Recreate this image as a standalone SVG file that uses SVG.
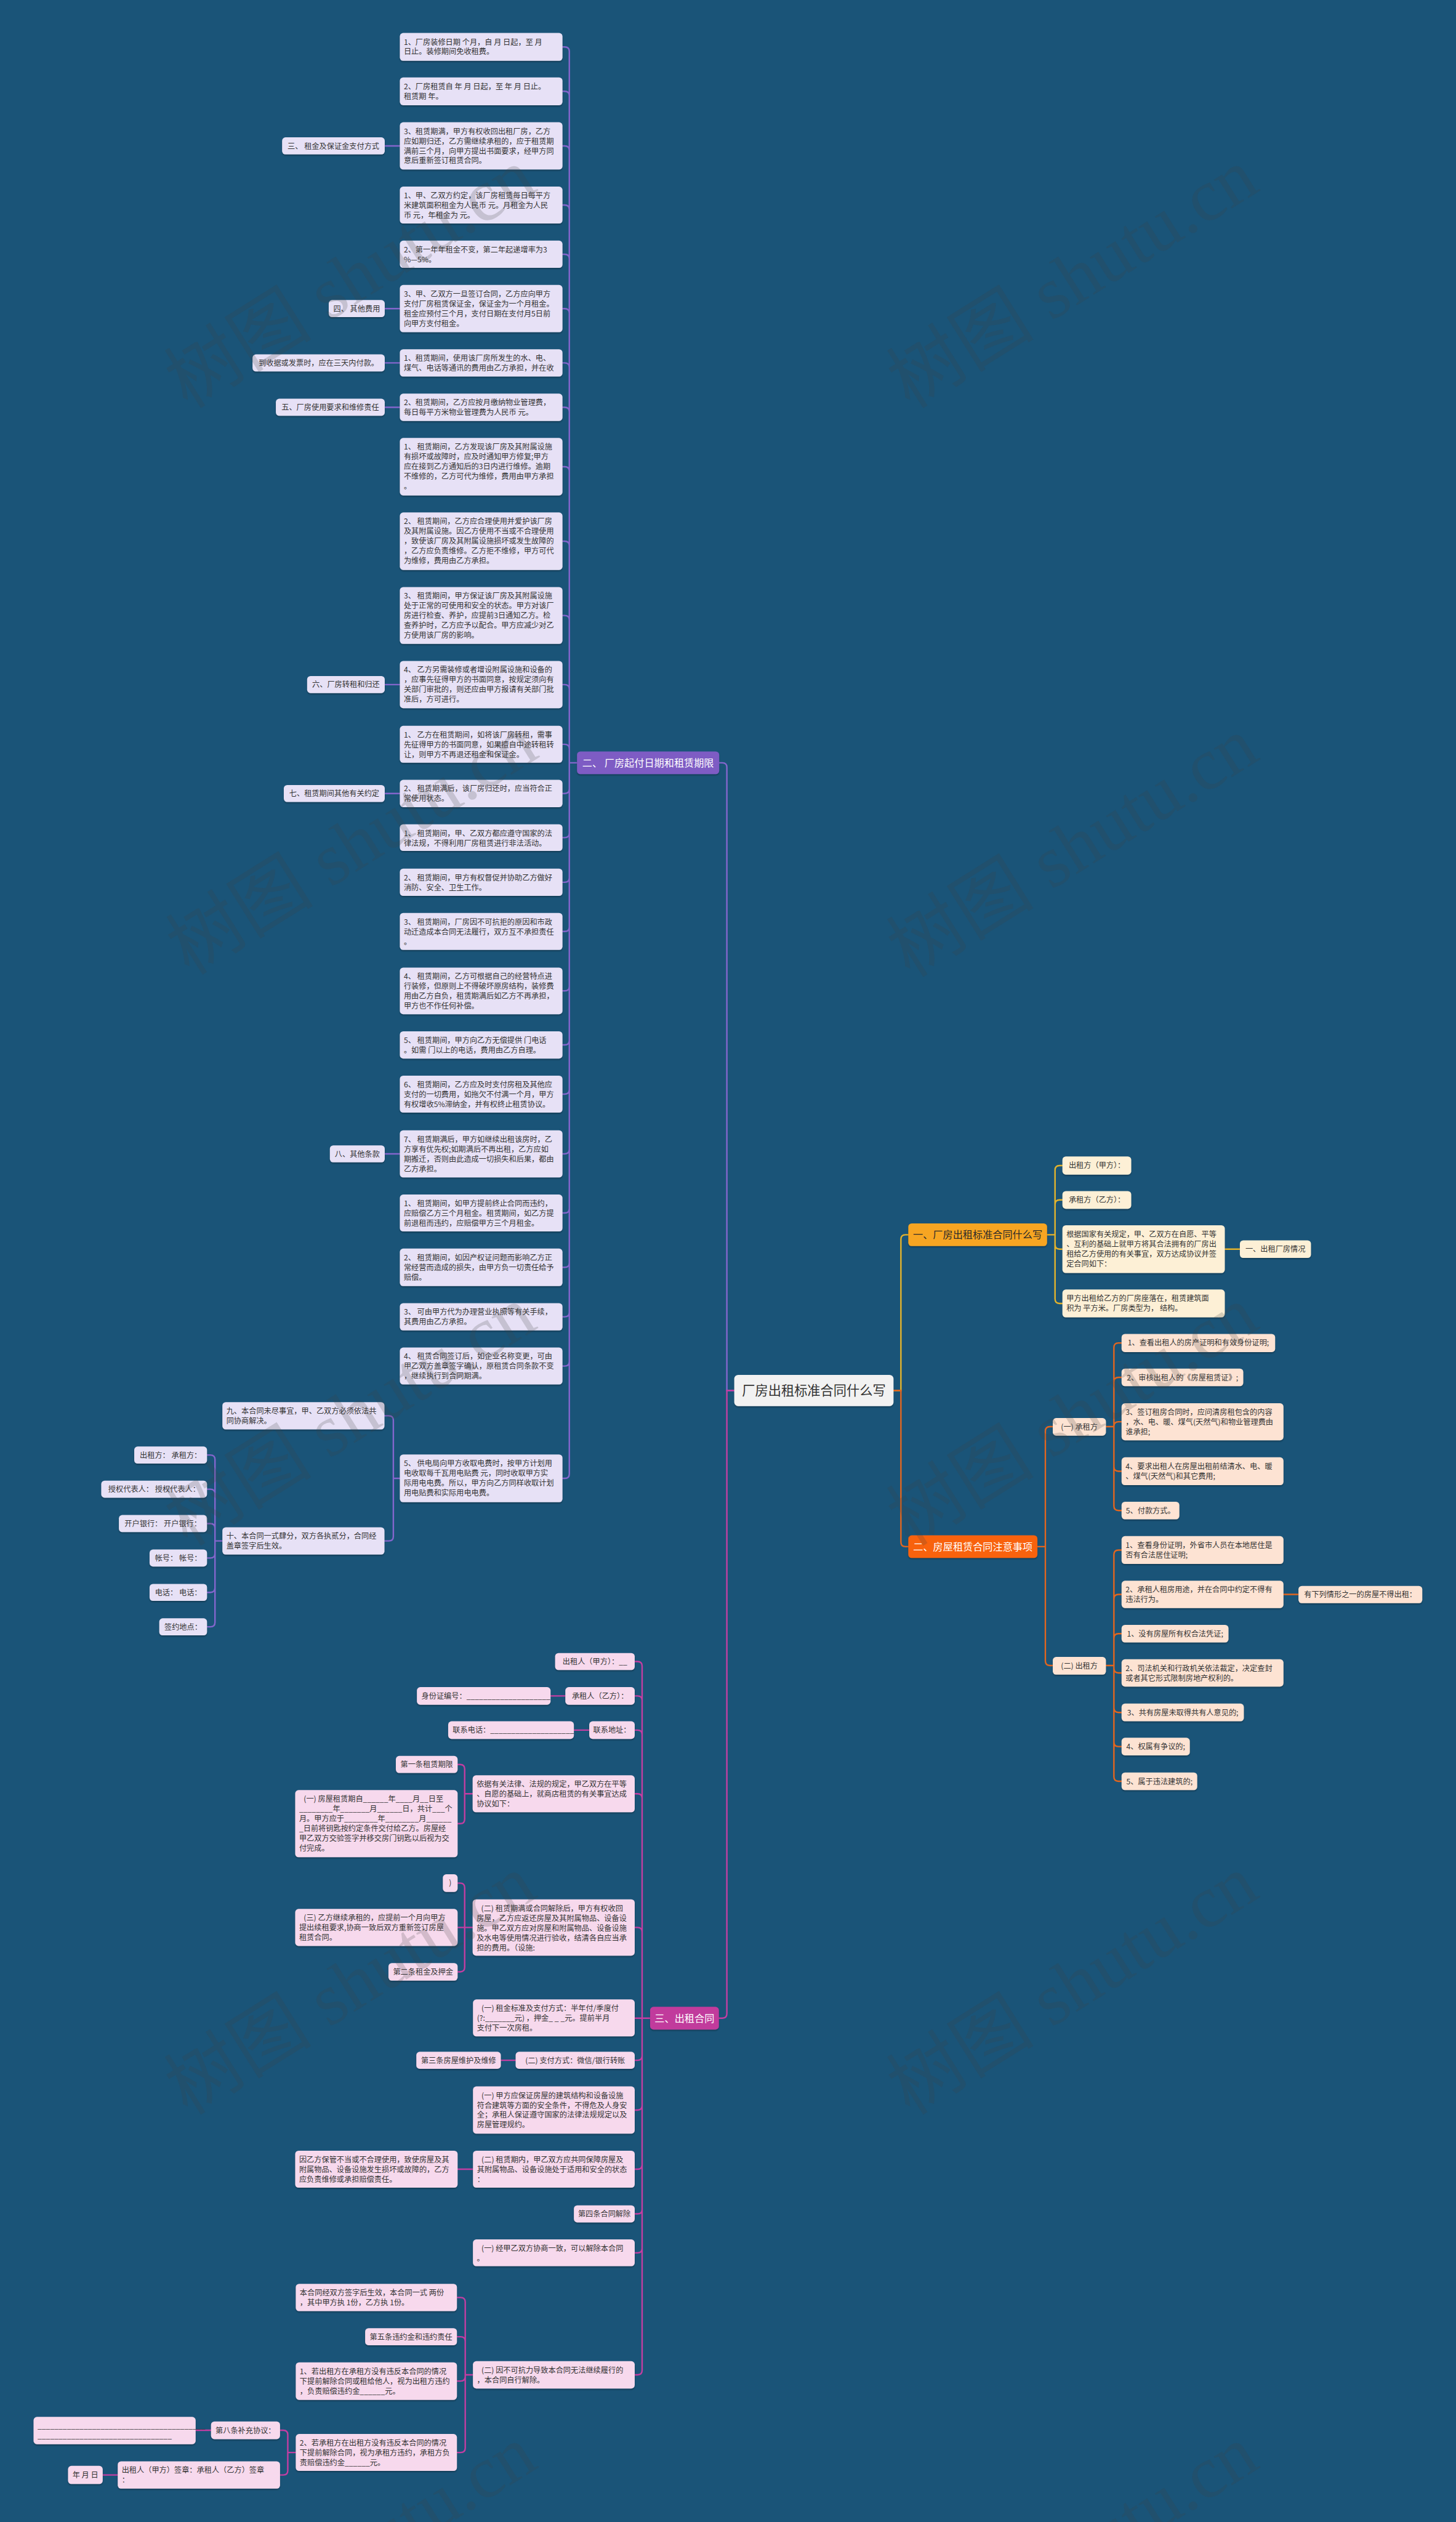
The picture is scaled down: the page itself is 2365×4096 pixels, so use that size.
<svg xmlns="http://www.w3.org/2000/svg" width="2365" height="4096" viewBox="0 0 2365 4096">
<defs>
<style>
text{font-family:"Noto Sans CJK SC","Noto Sans",sans-serif}
.t{font-size:13.2px;fill:#333}
.c{text-anchor:middle}
.mt{font-size:17.5px;text-anchor:middle}
.p{fill:#e7e1f6}
.m{fill:#f7d9ed}
.y{fill:#fdf0d6}
.o{fill:#fde3d3}
.p,.m,.y,.o,.main{filter:url(#sh)}
.cp,.cm,.cy,.co{fill:none;stroke-width:2.6;stroke-linecap:round}
.cp{stroke:#8466cc}
.cm{stroke:#c33ea2}
.cy{stroke:#e3b32c}
.co{stroke:#e2661f}
.wm{font-family:"Liberation Serif","Noto Sans CJK SC",serif;font-size:130px;fill:#404040;fill-opacity:.2}
</style>
<filter id="sh" x="-5%" y="-10%" width="110%" height="130%"><feDropShadow dx="0" dy="2" stdDeviation="1.2" flood-color="#000" flood-opacity=".3"/></filter>
</defs>
<rect width="2365" height="4096" fill="#1a5478"/>
<g transform="scale(0.92383)">
<g id="connectors">
<path class="cp" d="M1291,2444.5H1278V1349Q1278,1341 1270,1341H1264.5M1014.5,1341H1001M1001,90.5V2591M1001,90.5Q1001,82.5 993,82.5H989M1001,168.5Q1001,160.5 993,160.5H989M1001,264.5Q1001,256.5 993,256.5H989M1001,368.5Q1001,360.5 993,360.5H989M1001,455Q1001,447 993,447H989M1001,550.5Q1001,542.5 993,542.5H989M1001,646Q1001,638 993,638H989M1001,724Q1001,716 993,716H989M1001,828.5Q1001,820.5 993,820.5H989M1001,959.5Q1001,951.5 993,951.5H989M1001,1090Q1001,1082 993,1082H989M1001,1211.5Q1001,1203.5 993,1203.5H989M1001,1316.5Q1001,1308.5 993,1308.5H989M1001,1387Q1001,1395 993,1395H989M1001,1464.5Q1001,1472.5 993,1472.5H989M1001,1543Q1001,1551 993,1551H989M1001,1629.5Q1001,1637.5 993,1637.5H989M1001,1734Q1001,1742 993,1742H989M1001,1829Q1001,1837 993,1837H989M1001,1915.5Q1001,1923.5 993,1923.5H989M1001,2020.5Q1001,2028.5 993,2028.5H989M1001,2124.5Q1001,2132.5 993,2132.5H989M1001,2220Q1001,2228 993,2228H989M1001,2307Q1001,2315 993,2315H989M1001,2393.5Q1001,2401.5 993,2401.5H989M1001,2591Q1001,2599 993,2599H989"/>
<path class="cp" d="M676.5,256.5H703M676.5,542.5H703M676.5,638H703M676.5,716H703M676.5,1203.5H703M676.5,1395H703M676.5,2028.5H703"/>
<path class="cp" d="M703,2599H691.6M691.6,2497V2701M691.6,2497Q691.6,2489 683.6,2489H676M691.6,2701Q691.6,2709 683.6,2709H676"/>
<path class="cp" d="M391,2709H378M378,2566V2852M378,2566Q378,2558 370,2558H364M378,2626Q378,2618 370,2618H364M378,2686.5Q378,2678.5 370,2678.5H364M378,2731Q378,2739 370,2739H364M378,2791.5Q378,2799.5 370,2799.5H364M378,2852Q378,2860 370,2860H364"/>
<path class="cy" d="M1571,2444.5H1584V2178.7Q1584,2170.7 1592,2170.7H1597M1841,2170.7H1855M1855,2057V2283.5M1855,2057Q1855,2049 1863,2049H1868M1855,2117.5Q1855,2109.5 1863,2109.5H1868M1855,2188Q1855,2196 1863,2196H1868M1855,2283.5Q1855,2291.5 1863,2291.5H1868M2153.5,2196H2180"/>
<path class="co" d="M1571,2444.5H1584V2711Q1584,2719 1592,2719H1597M1824,2719H1838M1838,2516V2920M1838,2516Q1838,2508 1846,2508H1851M1838,2920Q1838,2928 1846,2928H1851"/>
<path class="co" d="M1944.5,2508H1958.5M1958.5,2369V2647.5M1958.5,2369Q1958.5,2361 1966.5,2361H1972M1958.5,2429.5Q1958.5,2421.5 1966.5,2421.5H1972M1958.5,2507.5Q1958.5,2499.5 1966.5,2499.5H1972M1958.5,2578.5Q1958.5,2586.5 1966.5,2586.5H1972M1958.5,2647.5Q1958.5,2655.5 1966.5,2655.5H1972"/>
<path class="co" d="M1944.5,2928H1958.5M1958.5,2733V3123.5M1958.5,2733Q1958.5,2725 1966.5,2725H1972M1958.5,2811Q1958.5,2803 1966.5,2803H1972M1958.5,2880Q1958.5,2872 1966.5,2872H1972M1958.5,2933Q1958.5,2941 1966.5,2941H1972M1958.5,3002.5Q1958.5,3010.5 1966.5,3010.5H1972M1958.5,3062.5Q1958.5,3070.5 1966.5,3070.5H1972M1958.5,3123.5Q1958.5,3131.5 1966.5,3131.5H1972M2256.7,2803H2283"/>
<path class="cm" d="M1291,2444.5H1278V3540Q1278,3548 1270,3548H1264M1143,3548H1116M1129,2929V4167M1129,2929Q1129,2921 1121,2921H1116M1129,2989.5Q1129,2981.5 1121,2981.5H1116M1129,3049.5Q1129,3041.5 1121,3041.5H1116M1129,3161.5Q1129,3153.5 1121,3153.5H1116M1129,3396.5Q1129,3388.5 1121,3388.5H1116M1129,3614Q1129,3622 1121,3622H1116M1129,3701.5Q1129,3709.5 1121,3709.5H1116M1129,3805.5Q1129,3813.5 1121,3813.5H1116M1129,3884Q1129,3892 1121,3892H1116M1129,3952.5Q1129,3960.5 1121,3960.5H1116M1129,4167Q1129,4175 1121,4175H1116"/>
<path class="cm" d="M994,2981.5H968M1036,3041.5H1009M906.6,3622H880.6M831.6,3813.5H804.6"/>
<path class="cm" d="M831,3153.5H817M817,3110V3198M817,3110Q817,3102 809,3102H804.6M817,3198Q817,3206 809,3206H804.6"/>
<path class="cm" d="M831,3388.5H804.6M817,3318.5V3458.5M817,3318.5Q817,3310.5 809,3310.5H804.6M817,3458.5Q817,3466.5 809,3466.5H804.6"/>
<path class="cm" d="M831.5,4175H818M818,4047V4303.5M818,4047Q818,4039 810,4039H803.4M818,4116Q818,4108 810,4108H803.4M818,4178Q818,4186 810,4186H803.4M818,4303.5Q818,4311.5 810,4311.5H803.4"/>
<path class="cm" d="M520,4311.5H506M506,4280.5V4343M506,4280.5Q506,4272.5 498,4272.5H492.4M506,4343Q506,4351 498,4351H492.4M371,4272.5H344M207,4351H180.6"/>
</g>

<g id="root"><rect class="main" x="1291" y="2417" width="280" height="55" rx="7" fill="#f2f2f2"/><text x="1431" y="2453" font-size="23" text-anchor="middle" fill="#333">厂房出租标准合同什么写</text></g>
<g id="b2"><rect class="main" x="1014.5" y="1321" width="250" height="40" rx="6" fill="#7e5cc4"/><text class="mt" x="1139.5" y="1347.5" fill="#fff">二、 厂房起付日期和租赁期限</text></g>
<g id="b1"><rect class="main" x="1597" y="2150.7" width="244" height="40" rx="6" fill="#f7a520"/><text class="mt" x="1719" y="2177" fill="#2b2b2b">一、厂房出租标准合同什么写</text></g>
<g id="b2o"><rect class="main" x="1597" y="2699" width="227" height="40" rx="6" fill="#f8620e"/><text class="mt" x="1710.5" y="2725.5" fill="#fff">二、房屋租赁合同注意事项</text></g>
<g id="b3"><rect class="main" x="1143" y="3528" width="121" height="40" rx="6" fill="#c13a9c"/><text class="mt" x="1203.5" y="3554.5" fill="#fff">三、出租合同</text></g>

<g id="n1"><rect class="p" x="703" y="58" width="286" height="49" rx="6"/><text class="t" x="710" y="78.5"><tspan x="710">1、厂房装修日期 个月，自 月 日起，至 月</tspan><tspan x="710" dy="17.3">日止。装修期间免收租费。</tspan></text></g>
<g id="n2"><rect class="p" x="703" y="136" width="286" height="49" rx="6"/><text class="t" x="710" y="156.5"><tspan x="710">2、厂房租赁自 年 月 日起，至 年 月 日止。</tspan><tspan x="710" dy="17.3">租赁期 年。</tspan></text></g>
<g id="n3"><rect class="p" x="703" y="215" width="286" height="83" rx="6"/><text class="t" x="710" y="235.5"><tspan x="710">3、租赁期满，甲方有权收回出租厂房，乙方</tspan><tspan x="710" dy="17.3">应如期归还，乙方需继续承租的，应于租赁期</tspan><tspan x="710" dy="17.3">满前三个月，向甲方提出书面要求，经甲方同</tspan><tspan x="710" dy="17.3">意后重新签订租赁合同。</tspan></text></g>
<g id="n4"><rect class="p" x="703" y="328" width="286" height="65" rx="6"/><text class="t" x="710" y="348.5"><tspan x="710">1、甲、乙双方约定，该厂房租赁每日每平方</tspan><tspan x="710" dy="17.3">米建筑面积租金为人民币 元。月租金为人民</tspan><tspan x="710" dy="17.3">币 元，年租金为 元。</tspan></text></g>
<g id="n5"><rect class="p" x="703" y="423" width="286" height="48" rx="6"/><text class="t" x="710" y="443.5"><tspan x="710">2、第一年年租金不变，第二年起递增率为3</tspan><tspan x="710" dy="17.3">%—5%。</tspan></text></g>
<g id="n6"><rect class="p" x="703" y="501" width="286" height="83" rx="6"/><text class="t" x="710" y="521.5"><tspan x="710">3、甲、乙双方一旦签订合同，乙方应向甲方</tspan><tspan x="710" dy="17.3">支付厂房租赁保证金，保证金为一个月租金。</tspan><tspan x="710" dy="17.3">租金应预付三个月，支付日期在支付月5日前</tspan><tspan x="710" dy="17.3">向甲方支付租金。</tspan></text></g>
<g id="n7"><rect class="p" x="703" y="614" width="286" height="48" rx="6"/><text class="t" x="710" y="634.5"><tspan x="710">1、租赁期间，使用该厂房所发生的水、电、</tspan><tspan x="710" dy="17.3">煤气、电话等通讯的费用由乙方承担，并在收</tspan></text></g>
<g id="n8"><rect class="p" x="703" y="692" width="286" height="48" rx="6"/><text class="t" x="710" y="712.5"><tspan x="710">2、租赁期间，乙方应按月缴纳物业管理费，</tspan><tspan x="710" dy="17.3">每日每平方米物业管理费为人民币 元。</tspan></text></g>
<g id="n9"><rect class="p" x="703" y="770" width="286" height="101" rx="6"/><text class="t" x="710" y="790.5"><tspan x="710">1、 租赁期间，乙方发现该厂房及其附属设施</tspan><tspan x="710" dy="17.3">有损坏或故障时，应及时通知甲方修复;甲方</tspan><tspan x="710" dy="17.3">应在接到乙方通知后的3日内进行维修。逾期</tspan><tspan x="710" dy="17.3">不维修的，乙方可代为维修，费用由甲方承担</tspan><tspan x="710" dy="17.3">。</tspan></text></g>
<g id="n10"><rect class="p" x="703" y="901" width="286" height="101" rx="6"/><text class="t" x="710" y="921.5"><tspan x="710">2、 租赁期间，乙方应合理使用并爱护该厂房</tspan><tspan x="710" dy="17.3">及其附属设施。因乙方使用不当或不合理使用</tspan><tspan x="710" dy="17.3">，致使该厂房及其附属设施损坏或发生故障的</tspan><tspan x="710" dy="17.3">，乙方应负责维修。乙方拒不维修，甲方可代</tspan><tspan x="710" dy="17.3">为维修，费用由乙方承担。</tspan></text></g>
<g id="n11"><rect class="p" x="703" y="1032" width="286" height="100" rx="6"/><text class="t" x="710" y="1052.5"><tspan x="710">3、 租赁期间，甲方保证该厂房及其附属设施</tspan><tspan x="710" dy="17.3">处于正常的可使用和安全的状态。甲方对该厂</tspan><tspan x="710" dy="17.3">房进行检查、养护，应提前3日通知乙方。检</tspan><tspan x="710" dy="17.3">查养护时，乙方应予以配合。甲方应减少对乙</tspan><tspan x="710" dy="17.3">方使用该厂房的影响。</tspan></text></g>
<g id="n12"><rect class="p" x="703" y="1162" width="286" height="83" rx="6"/><text class="t" x="710" y="1182.5"><tspan x="710">4、 乙方另需装修或者增设附属设施和设备的</tspan><tspan x="710" dy="17.3">，应事先征得甲方的书面同意，按规定须向有</tspan><tspan x="710" dy="17.3">关部门审批的，则还应由甲方报请有关部门批</tspan><tspan x="710" dy="17.3">准后，方可进行。</tspan></text></g>
<g id="n13"><rect class="p" x="703" y="1276" width="286" height="65" rx="6"/><text class="t" x="710" y="1296.5"><tspan x="710">1、 乙方在租赁期间，如将该厂房转租，需事</tspan><tspan x="710" dy="17.3">先征得甲方的书面同意，如果擅自中途转租转</tspan><tspan x="710" dy="17.3">让，则甲方不再退还租金和保证金。</tspan></text></g>
<g id="n14"><rect class="p" x="703" y="1371" width="286" height="48" rx="6"/><text class="t" x="710" y="1391.5"><tspan x="710">2、 租赁期满后，该厂房归还时，应当符合正</tspan><tspan x="710" dy="17.3">常使用状态。</tspan></text></g>
<g id="n15"><rect class="p" x="703" y="1449" width="286" height="47" rx="6"/><text class="t" x="710" y="1469.5"><tspan x="710">1、 租赁期间，甲、乙双方都应遵守国家的法</tspan><tspan x="710" dy="17.3">律法规，不得利用厂房租赁进行非法活动。</tspan></text></g>
<g id="n16"><rect class="p" x="703" y="1527" width="286" height="48" rx="6"/><text class="t" x="710" y="1547.5"><tspan x="710">2、 租赁期间，甲方有权督促并协助乙方做好</tspan><tspan x="710" dy="17.3">消防、安全、卫生工作。</tspan></text></g>
<g id="n17"><rect class="p" x="703" y="1605" width="286" height="65" rx="6"/><text class="t" x="710" y="1625.5"><tspan x="710">3、 租赁期间，厂房因不可抗拒的原因和市政</tspan><tspan x="710" dy="17.3">动迁造成本合同无法履行，双方互不承担责任</tspan><tspan x="710" dy="17.3">。</tspan></text></g>
<g id="n18"><rect class="p" x="703" y="1701" width="286" height="82" rx="6"/><text class="t" x="710" y="1721.5"><tspan x="710">4、 租赁期间，乙方可根据自己的经营特点进</tspan><tspan x="710" dy="17.3">行装修，但原则上不得破坏原房结构，装修费</tspan><tspan x="710" dy="17.3">用由乙方自负，租赁期满后如乙方不再承担，</tspan><tspan x="710" dy="17.3">甲方也不作任何补偿。</tspan></text></g>
<g id="n19"><rect class="p" x="703" y="1813" width="286" height="48" rx="6"/><text class="t" x="710" y="1833.5"><tspan x="710">5、 租赁期间，甲方向乙方无偿提供 门电话</tspan><tspan x="710" dy="17.3">。如需 门以上的电话，费用由乙方自理。</tspan></text></g>
<g id="n20"><rect class="p" x="703" y="1891" width="286" height="65" rx="6"/><text class="t" x="710" y="1911.5"><tspan x="710">6、 租赁期间，乙方应及时支付房租及其他应</tspan><tspan x="710" dy="17.3">支付的一切费用，如拖欠不付满一个月，甲方</tspan><tspan x="710" dy="17.3">有权增收5%滞纳金，并有权终止租赁协议。</tspan></text></g>
<g id="n21"><rect class="p" x="703" y="1987" width="286" height="83" rx="6"/><text class="t" x="710" y="2007.5"><tspan x="710">7、 租赁期满后，甲方如继续出租该房时，乙</tspan><tspan x="710" dy="17.3">方享有优先权;如期满后不再出租，乙方应如</tspan><tspan x="710" dy="17.3">期搬迁，否则由此造成一切损失和后果，都由</tspan><tspan x="710" dy="17.3">乙方承担。</tspan></text></g>
<g id="n22"><rect class="p" x="703" y="2100" width="286" height="65" rx="6"/><text class="t" x="710" y="2120.5"><tspan x="710">1、 租赁期间，如甲方提前终止合同而违约，</tspan><tspan x="710" dy="17.3">应赔偿乙方三个月租金。租赁期间，如乙方提</tspan><tspan x="710" dy="17.3">前退租而违约，应赔偿甲方三个月租金。</tspan></text></g>
<g id="n23"><rect class="p" x="703" y="2195" width="286" height="66" rx="6"/><text class="t" x="710" y="2215.5"><tspan x="710">2、 租赁期间，如因产权证问题而影响乙方正</tspan><tspan x="710" dy="17.3">常经营而造成的损失，由甲方负一切责任给予</tspan><tspan x="710" dy="17.3">赔偿。</tspan></text></g>
<g id="n24"><rect class="p" x="703" y="2291" width="286" height="48" rx="6"/><text class="t" x="710" y="2311.5"><tspan x="710">3、 可由甲方代为办理营业执照等有关手续，</tspan><tspan x="710" dy="17.3">其费用由乙方承担。</tspan></text></g>
<g id="n25"><rect class="p" x="703" y="2369" width="286" height="65" rx="6"/><text class="t" x="710" y="2389.5"><tspan x="710">4、 租赁合同签订后，如企业名称变更，可由</tspan><tspan x="710" dy="17.3">甲乙双方盖章签字确认，原租赁合同条款不变</tspan><tspan x="710" dy="17.3">，继续执行到合同期满。</tspan></text></g>
<g id="n26"><rect class="p" x="703" y="2557" width="286" height="84" rx="6"/><text class="t" x="710" y="2577.5"><tspan x="710">5、 供电局向甲方收取电费时，按甲方计划用</tspan><tspan x="710" dy="17.3">电收取每千瓦用电贴费 元，同时收取甲方实</tspan><tspan x="710" dy="17.3">际用电电费。所以，甲方向乙方同样收取计划</tspan><tspan x="710" dy="17.3">用电贴费和实际用电电费。</tspan></text></g>

<g id="l3"><rect class="p" x="496" y="241.5" width="180.5" height="30" rx="6"/><text class="t c" x="586.2" y="261.5">三、 租金及保证金支付方式</text></g>
<g id="l4"><rect class="p" x="578" y="527.5" width="98.5" height="30" rx="6"/><text class="t c" x="627.2" y="547.5">四、 其他费用</text></g>
<g id="l4b"><rect class="p" x="444" y="623" width="232.5" height="30" rx="6"/><text class="t c" x="560.2" y="643">到收据或发票时，应在三天内付款。</text></g>
<g id="l5"><rect class="p" x="485" y="701" width="191.5" height="30" rx="6"/><text class="t c" x="580.7" y="721">五、厂房使用要求和维修责任</text></g>
<g id="l6"><rect class="p" x="540" y="1188.5" width="136.5" height="30" rx="6"/><text class="t c" x="608.2" y="1208.5">六、厂房转租和归还</text></g>
<g id="l7"><rect class="p" x="499" y="1380" width="177.5" height="30" rx="6"/><text class="t c" x="587.7" y="1400">七、租赁期间其他有关约定</text></g>
<g id="l8"><rect class="p" x="580" y="2013.5" width="96.5" height="30" rx="6"/><text class="t c" x="628.2" y="2033.5">八、其他条款</text></g>
<g id="l9"><rect class="p" x="391" y="2465" width="285" height="48" rx="6"/><text class="t" x="398" y="2485.5"><tspan x="398">九、本合同未尽事宜，甲、乙双方必须依法共</tspan><tspan x="398" dy="17.3">同协商解决。</tspan></text></g>
<g id="l10"><rect class="p" x="391" y="2685" width="285" height="48" rx="6"/><text class="t" x="398" y="2705.5"><tspan x="398">十、本合同一式肆分，双方各执贰分，合同经</tspan><tspan x="398" dy="17.3">盖章签字后生效。</tspan></text></g>
<g id="s1"><rect class="p" x="236" y="2543" width="128" height="30" rx="6"/><text class="t c" x="300" y="2563">出租方： 承租方：</text></g>
<g id="s2"><rect class="p" x="178" y="2603" width="186" height="30" rx="6"/><text class="t c" x="271" y="2623">授权代表人： 授权代表人：</text></g>
<g id="s3"><rect class="p" x="209" y="2663.5" width="155" height="30" rx="6"/><text class="t c" x="286.5" y="2683.5">开户银行： 开户银行：</text></g>
<g id="s4"><rect class="p" x="263" y="2724" width="101" height="30" rx="6"/><text class="t c" x="313.5" y="2744">帐号： 帐号：</text></g>
<g id="s5"><rect class="p" x="263" y="2784.5" width="101" height="30" rx="6"/><text class="t c" x="313.5" y="2804.5">电话： 电话：</text></g>
<g id="s6"><rect class="p" x="280" y="2845" width="84" height="30" rx="6"/><text class="t c" x="322" y="2865">签约地点：</text></g>

<g id="y1"><rect class="y" x="1868" y="2033" width="121" height="32" rx="6"/><text class="t c" x="1928.5" y="2053.5">出租方（甲方）：</text></g>
<g id="y2"><rect class="y" x="1868" y="2094" width="121" height="31" rx="6"/><text class="t c" x="1928.5" y="2114.5">承租方（乙方）：</text></g>
<g id="y3"><rect class="y" x="1868" y="2154" width="285.5" height="84" rx="6"/><text class="t" x="1875" y="2174.5"><tspan x="1875">根据国家有关规定，甲、乙双方在自愿、平等</tspan><tspan x="1875" dy="17.3">、互利的基础上就甲方将其合法拥有的厂房出</tspan><tspan x="1875" dy="17.3">租给乙方使用的有关事宜，双方达成协议并签</tspan><tspan x="1875" dy="17.3">定合同如下：</tspan></text></g>
<g id="y3c"><rect class="y" x="2180" y="2180.5" width="125" height="31" rx="6"/><text class="t c" x="2242.5" y="2201">一、出租厂房情况</text></g>
<g id="y4"><rect class="y" x="1868" y="2267" width="285.5" height="49" rx="6"/><text class="t" x="1875" y="2287.5"><tspan x="1875">甲方出租给乙方的厂房座落在，租赁建筑面</tspan><tspan x="1875" dy="17.3">积为 平方米。厂房类型为， 结构。</tspan></text></g>

<g id="oa"><rect class="o" x="1851" y="2493" width="93.5" height="31" rx="6"/><text class="t c" x="1897.7" y="2513.5">(一) 承租方</text></g>
<g id="ob"><rect class="o" x="1851" y="2913" width="93.5" height="31" rx="6"/><text class="t c" x="1897.7" y="2933.5">(二) 出租方</text></g>
<g id="o1"><rect class="o" x="1972" y="2345" width="270" height="32" rx="6"/><text class="t c" x="2107" y="2365.5">1、查看出租人的房产证明和有效身份证明;</text></g>
<g id="o2"><rect class="o" x="1972" y="2406" width="214" height="31" rx="6"/><text class="t c" x="2079" y="2426.5">2、审核出租人的《房屋租赁证》;</text></g>
<g id="o3"><rect class="o" x="1972" y="2467" width="284.7" height="65" rx="6"/><text class="t" x="1979" y="2487.5"><tspan x="1979">3、签订租房合同时，应问清房租包含的内容</tspan><tspan x="1979" dy="17.3">，水、电、暖、煤气(天然气)和物业管理费由</tspan><tspan x="1979" dy="17.3">谁承担;</tspan></text></g>
<g id="o4"><rect class="o" x="1972" y="2562" width="284.7" height="49" rx="6"/><text class="t" x="1979" y="2582.5"><tspan x="1979">4、要求出租人在房屋出租前结清水、电、暖</tspan><tspan x="1979" dy="17.3">、煤气(天然气)和其它费用;</tspan></text></g>
<g id="o5"><rect class="o" x="1972" y="2640" width="101.6" height="31" rx="6"/><text class="t c" x="2022.8" y="2660.5">5、付款方式。</text></g>
<g id="p1"><rect class="o" x="1972" y="2700.5" width="284.7" height="49" rx="6"/><text class="t" x="1979" y="2721"><tspan x="1979">1、查看身份证明，外省市人员在本地居住是</tspan><tspan x="1979" dy="17.3">否有合法居住证明;</tspan></text></g>
<g id="p2"><rect class="o" x="1972" y="2779" width="284.7" height="48" rx="6"/><text class="t" x="1979" y="2799.5"><tspan x="1979">2、承租人租房用途，并在合同中约定不得有</tspan><tspan x="1979" dy="17.3">违法行为。</tspan></text></g>
<g id="p2c"><rect class="o" x="2283" y="2788" width="217.7" height="30.5" rx="6"/><text class="t c" x="2391.8" y="2808.3">有下列情形之一的房屋不得出租：</text></g>
<g id="p3"><rect class="o" x="1972" y="2856.5" width="188" height="31" rx="6"/><text class="t c" x="2066" y="2877">1、没有房屋所有权合法凭证;</text></g>
<g id="p4"><rect class="o" x="1972" y="2917" width="284.7" height="48" rx="6"/><text class="t" x="1979" y="2937.5"><tspan x="1979">2、司法机关和行政机关依法裁定，决定查封</tspan><tspan x="1979" dy="17.3">或者其它形式限制房地产权利的。</tspan></text></g>
<g id="p5"><rect class="o" x="1972" y="2995" width="215" height="31" rx="6"/><text class="t c" x="2079.5" y="3015.5">3、共有房屋未取得共有人意见的;</text></g>
<g id="p6"><rect class="o" x="1972" y="3055" width="120" height="31" rx="6"/><text class="t c" x="2032" y="3075.5">4、权属有争议的;</text></g>
<g id="p7"><rect class="o" x="1972" y="3116" width="133" height="31" rx="6"/><text class="t c" x="2038.5" y="3136.5">5、属于违法建筑的;</text></g>

<g id="m1"><rect class="m" x="976" y="2906" width="140" height="30" rx="6"/><text class="t c" x="1046" y="2926">出租人（甲方）：__</text></g>
<g id="m2"><rect class="m" x="994" y="2966" width="122" height="31" rx="6"/><text class="t c" x="1055" y="2986.5">承租人（乙方）：</text></g>
<g id="m2c"><rect class="m" x="733" y="2966" width="235" height="31" rx="6"/><text class="t" x="741" y="2986.5">身份证编号：____________________</text></g>
<g id="m3"><rect class="m" x="1036" y="3026" width="80" height="31" rx="6"/><text class="t c" x="1076" y="3046.5">联系地址：</text></g>
<g id="m3c"><rect class="m" x="788" y="3026" width="221" height="31" rx="6"/><text class="t" x="796" y="3046.5">联系电话：____________________</text></g>
<g id="m4"><rect class="m" x="831" y="3121" width="285" height="65" rx="6"/><text class="t" x="838" y="3141.5"><tspan x="838">依据有关法律、法规的规定，甲乙双方在平等</tspan><tspan x="838" dy="17.3">、自愿的基础上，就商店租赁的有关事宜达成</tspan><tspan x="838" dy="17.3">协议如下：</tspan></text></g>
<g id="m4a"><rect class="m" x="696" y="3087" width="108.6" height="30" rx="6"/><text class="t c" x="750.3" y="3107">第一条租赁期限</text></g>
<g id="m4b"><rect class="m" x="519" y="3147" width="285.6" height="118" rx="6"/><text class="t" x="526" y="3167.5"><tspan x="534">(一) 房屋租赁期自______年____月__日至</tspan><tspan x="526" dy="17.3">________年_______月______日，共计___个</tspan><tspan x="526" dy="17.3">月。甲方应于________年________月______</tspan><tspan x="526" dy="17.3">_日前将钥匙按约定条件交付给乙方。房屋经</tspan><tspan x="526" dy="17.3">甲乙双方交验签字并移交房门钥匙以后视为交</tspan><tspan x="526" dy="17.3">付完成。</tspan></text></g>
<g id="m5"><rect class="m" x="831" y="3339" width="285" height="99" rx="6"/><text class="t" x="838" y="3359.5"><tspan x="846">(二) 租赁期满或合同解除后，甲方有权收回</tspan><tspan x="838" dy="17.3">房屋，乙方应返还房屋及其附属物品、设备设</tspan><tspan x="838" dy="17.3">施。甲乙双方应对房屋和附属物品、设备设施</tspan><tspan x="838" dy="17.3">及水电等使用情况进行验收，结清各自应当承</tspan><tspan x="838" dy="17.3">担的费用。（设施:</tspan></text></g>
<g id="m5a"><rect class="m" x="778.6" y="3295" width="26" height="31" rx="6"/><text class="t c" x="791.6" y="3315">)</text></g>
<g id="m5b"><rect class="m" x="519" y="3356" width="285.6" height="65" rx="6"/><text class="t" x="526" y="3376.5"><tspan x="534">(三) 乙方继续承租的，应提前一个月向甲方</tspan><tspan x="526" dy="17.3">提出续租要求,协商一致后双方重新签订房屋</tspan><tspan x="526" dy="17.3">租赁合同。</tspan></text></g>
<g id="m5c"><rect class="m" x="683" y="3451" width="121.6" height="31" rx="6"/><text class="t c" x="743.8" y="3471.5">第二条租金及押金</text></g>
<g id="m6"><rect class="m" x="831.6" y="3515" width="284.4" height="65" rx="6"/><text class="t" x="838.6" y="3535.5"><tspan x="846.6">(一) 租金标准及支付方式：半年付/季度付</tspan><tspan x="838.6" dy="17.3">(?:_______元) ，押金_ _ _元。提前半月</tspan><tspan x="838.6" dy="17.3">支付下一次房租。</tspan></text></g>
<g id="m7"><rect class="m" x="906.6" y="3607" width="209.4" height="30" rx="6"/><text class="t c" x="1011.3" y="3627">(二) 支付方式：微信/银行转账</text></g>
<g id="m7c"><rect class="m" x="732" y="3607" width="148.6" height="30" rx="6"/><text class="t c" x="806.3" y="3627">第三条房屋维护及维修</text></g>
<g id="m8"><rect class="m" x="831.6" y="3668" width="284.4" height="83" rx="6"/><text class="t" x="838.6" y="3688.5"><tspan x="846.6">(一) 甲方应保证房屋的建筑结构和设备设施</tspan><tspan x="838.6" dy="17.3">符合建筑等方面的安全条件，不得危及人身安</tspan><tspan x="838.6" dy="17.3">全；承租人保证遵守国家的法律法规规定以及</tspan><tspan x="838.6" dy="17.3">房屋管理规约。</tspan></text></g>
<g id="m9"><rect class="m" x="831.6" y="3781" width="284.4" height="65" rx="6"/><text class="t" x="838.6" y="3801.5"><tspan x="846.6">(二) 租赁期内，甲乙双方应共同保障房屋及</tspan><tspan x="838.6" dy="17.3">其附属物品、设备设施处于适用和安全的状态</tspan><tspan x="838.6" dy="17.3">：</tspan></text></g>
<g id="m9c"><rect class="m" x="519" y="3781" width="285.6" height="65" rx="6"/><text class="t" x="526" y="3801.5"><tspan x="526">因乙方保管不当或不合理使用，致使房屋及其</tspan><tspan x="526" dy="17.3">附属物品、设备设施发生损坏或故障的，乙方</tspan><tspan x="526" dy="17.3">应负责维修或承担赔偿责任。</tspan></text></g>
<g id="m10"><rect class="m" x="1009" y="3877" width="107" height="30" rx="6"/><text class="t c" x="1062.5" y="3897">第四条合同解除</text></g>
<g id="m11"><rect class="m" x="831.5" y="3937" width="284.5" height="47" rx="6"/><text class="t" x="838.5" y="3957.5"><tspan x="846.5">(一) 经甲乙双方协商一致，可以解除本合同</tspan><tspan x="838.5" dy="17.3">。</tspan></text></g>
<g id="m12"><rect class="m" x="831.5" y="4151" width="284.5" height="48" rx="6"/><text class="t" x="838.5" y="4171.5"><tspan x="846.5">(二) 因不可抗力导致本合同无法继续履行的</tspan><tspan x="838.5" dy="17.3">，本合同自行解除。</tspan></text></g>
<g id="m12a"><rect class="m" x="520" y="4015" width="283.4" height="48" rx="6"/><text class="t" x="527" y="4035.5"><tspan x="527">本合同经双方签字后生效，本合同一式 两份</tspan><tspan x="527" dy="17.3">，其中甲方执 1份，乙方执 1份。</tspan></text></g>
<g id="m12b"><rect class="m" x="642" y="4093" width="161.4" height="30" rx="6"/><text class="t c" x="722.7" y="4113">第五条违约金和违约责任</text></g>
<g id="m12c"><rect class="m" x="520" y="4153" width="283.4" height="66" rx="6"/><text class="t" x="527" y="4173.5"><tspan x="527">1、若出租方在承租方没有违反本合同的情况</tspan><tspan x="527" dy="17.3">下提前解除合同或租给他人，视为出租方违约</tspan><tspan x="527" dy="17.3">，负责赔偿违约金______元。</tspan></text></g>
<g id="m12d"><rect class="m" x="520" y="4279" width="283.4" height="65" rx="6"/><text class="t" x="527" y="4299.5"><tspan x="527">2、若承租方在出租方没有违反本合同的情况</tspan><tspan x="527" dy="17.3">下提前解除合同，视为承租方违约，承租方负</tspan><tspan x="527" dy="17.3">责赔偿违约金______元。</tspan></text></g>
<g id="d1"><rect class="m" x="371" y="4257" width="121.4" height="31" rx="6"/><text class="t c" x="431.7" y="4277.5">第八条补充协议：</text></g>
<g id="d1c"><rect class="m" x="59" y="4249" width="285" height="48" rx="6"/><text class="t" x="66" y="4269.5"><tspan x="66">________________________________________</tspan><tspan x="66" dy="17.3">________________________________</tspan></text></g>
<g id="d2"><rect class="m" x="207" y="4327" width="285.4" height="48" rx="6"/><text class="t" x="214" y="4347.5"><tspan x="214">出租人（甲方）签章：承租人（乙方）签章</tspan><tspan x="214" dy="17.3">：</tspan></text></g>
<g id="d2c"><rect class="m" x="119.6" y="4335" width="61" height="32" rx="6"/><text class="t c" x="150.1" y="4356">年 月 日</text></g>

<g id="watermark">
<text class="wm" x="330" y="720" transform="rotate(-32 330 720)">树图 shutu.cn</text>
<text class="wm" x="333" y="1716" transform="rotate(-32 333 1716)">树图 shutu.cn</text>
<text class="wm" x="330" y="2720" transform="rotate(-32 330 2720)">树图 shutu.cn</text>
<text class="wm" x="330" y="3720" transform="rotate(-32 330 3720)">树图 shutu.cn</text>
<text class="wm" x="331" y="4723" transform="rotate(-32 331 4723)">树图 shutu.cn</text>
<text class="wm" x="1600" y="720" transform="rotate(-32 1600 720)">树图 shutu.cn</text>
<text class="wm" x="1600" y="1720" transform="rotate(-32 1600 1720)">树图 shutu.cn</text>
<text class="wm" x="1600" y="2720" transform="rotate(-32 1600 2720)">树图 shutu.cn</text>
<text class="wm" x="1600" y="3720" transform="rotate(-32 1600 3720)">树图 shutu.cn</text>
<text class="wm" x="1600" y="4723" transform="rotate(-32 1600 4723)">树图 shutu.cn</text>
</g>
</g>
</svg>
